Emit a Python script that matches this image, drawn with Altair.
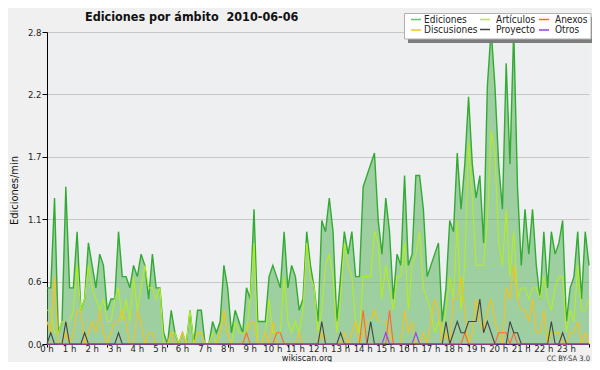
import altair as alt
import pandas as pd

# 10-minute bins over the day (0 .. 144)
bins = list(range(145))

ediciones = [0.5, 0.5, 1.3, 0.1, 0.2, 1.4, 0.5, 0.5, 1.0, 0.3,
             0.4, 0.9, 0.7, 0.5, 0.8, 0.7, 0.3, 0.4, 0.4, 1.0,
             0.6, 0.6, 0.5, 0.7, 0.6, 0.8, 0.7, 0.4, 0.8, 0.5,
             0.5, 0.1, 0.0, 0.3, 0.1, 0.0, 0.1, 0.0, 0.3, 0.0,
             0.3, 0.3, 0.0, 0.0, 0.2, 0.1, 0.2, 0.7, 0.5, 0.1,
             0.3, 0.2, 0.1, 0.5, 0.4, 1.2, 0.2, 0.2, 0.2, 0.6,
             0.7, 0.6, 0.5, 1.0, 0.5, 0.7, 0.6, 0.3, 0.4, 1.0,
             0.7, 0.5, 0.2, 1.1, 1.0, 1.3, 1.0, 0.2, 0.6, 1.0,
             0.8, 1.0, 0.6, 0.6, 1.4, 1.5, 1.6, 1.7, 1.1, 0.8,
             1.3, 1.0, 0.4, 0.8, 0.7, 1.5, 0.7, 0.8, 1.5, 1.5,
             1.2, 0.6, 0.7, 0.8, 0.9, 0.2, 0.5, 1.1, 1.0, 1.7,
             1.2, 1.6, 2.2, 1.6, 1.3, 1.5, 0.9, 2.3, 2.8, 2.3,
             1.6, 1.2, 2.5, 1.6, 2.8, 1.4, 0.7, 1.2, 0.8, 1.2,
             0.7, 0.4, 1.0, 0.5, 1.0, 0.8, 0.9, 1.1, 0.2, 0.5,
             0.6, 1.0, 0.4, 1.0, 0.7]

articulos = [0.3, 0.3, 0.1, 0.1, 0.2, 0.2, 0.2, 0.3, 0.7, 0.3,
             0.4, 0.7, 0.5, 0.4, 0.3, 0.4, 0.2, 0.2, 0.4, 0.5,
             0.2, 0.4, 0.2, 0.6, 0.3, 0.5, 0.7, 0.5, 0.5, 0.4,
             0.5, 0.0, 0.0, 0.1, 0.1, 0.0, 0.1, 0.0, 0.3, 0.0,
             0.1, 0.1, 0.0, 0.0, 0.1, 0.0, 0.1, 0.3, 0.1, 0.0,
             0.2, 0.1, 0.1, 0.1, 0.4, 0.9, 0.0, 0.0, 0.1, 0.4,
             0.1, 0.1, 0.1, 0.6, 0.2, 0.1, 0.2, 0.1, 0.3, 0.9,
             0.6, 0.5, 0.1, 0.3, 0.7, 0.8, 0.6, 0.1, 0.4, 0.9,
             0.7, 0.6, 0.2, 0.1, 0.6, 0.6, 0.6, 1.0, 0.9, 0.4,
             0.7, 0.5, 0.3, 0.6, 0.6, 0.9, 0.3, 0.7, 0.8, 1.0,
             0.5, 0.4, 0.3, 0.1, 0.2, 0.1, 0.3, 0.6, 0.4, 1.1,
             0.3, 0.7, 1.8, 1.3, 0.7, 0.7, 0.7, 1.1, 1.9, 1.7,
             0.9, 0.7, 1.2, 0.6, 1.0, 0.4, 0.5, 0.5, 0.4, 0.5,
             0.5, 0.4, 0.6, 0.4, 0.3, 0.5, 0.6, 0.6, 0.1, 0.3,
             0.2, 0.7, 0.3, 0.3, 0.4]

discusiones = [0.2, 0.1, 0.6, 0.0, 0.0, 0.1, 0.0, 0.1, 0.3, 0.3,
               0.0, 0.1, 0.2, 0.1, 0.3, 0.1, 0.0, 0.1, 0.2, 0.2,
               0.3, 0.2, 0.0, 0.0, 0.3, 0.2, 0.0, 0.1, 0.1, 0.0,
               0.0, 0.0, 0.0, 0.1, 0.0, 0.0, 0.1, 0.0, 0.0, 0.0,
               0.1, 0.1, 0.0, 0.0, 0.0, 0.0, 0.1, 0.3, 0.1, 0.0,
               0.0, 0.0, 0.0, 0.1, 0.2, 0.2, 0.0, 0.0, 0.1, 0.0,
               0.2, 0.0, 0.0, 0.0, 0.0, 0.0, 0.0, 0.1, 0.0, 0.0,
               0.0, 0.0, 0.0, 0.1, 0.0, 0.0, 0.0, 0.0, 0.0, 0.1,
               0.0, 0.1, 0.2, 0.0, 0.1, 0.2, 0.2, 0.3, 0.2, 0.2,
               0.2, 0.1, 0.0, 0.0, 0.0, 0.3, 0.1, 0.2, 0.0, 0.0,
               0.1, 0.0, 0.2, 0.4, 0.3, 0.0, 0.1, 0.0, 0.4, 0.4,
               0.6, 0.3, 0.0, 0.1, 0.4, 0.2, 0.1, 0.3, 0.4, 0.2,
               0.1, 0.0, 0.5, 0.4, 0.7, 0.4, 0.3, 0.3, 0.2, 0.4,
               0.1, 0.1, 0.3, 0.0, 0.1, 0.1, 0.1, 0.0, 0.0, 0.1,
               0.1, 0.2, 0.0, 0.1, 0.0]

anexos = [0.0, 0.0, 0.0, 0.0, 0.0, 0.0, 0.0, 0.0, 0.0, 0.0,
          0.0, 0.0, 0.0, 0.0, 0.0, 0.0, 0.0, 0.0, 0.0, 0.0,
          0.0, 0.0, 0.0, 0.0, 0.0, 0.0, 0.0, 0.0, 0.0, 0.0,
          0.0, 0.0, 0.0, 0.0, 0.0, 0.0, 0.0, 0.0, 0.0, 0.0,
          0.0, 0.0, 0.0, 0.0, 0.0, 0.0, 0.0, 0.0, 0.0, 0.0,
          0.0, 0.0, 0.0, 0.1, 0.0, 0.0, 0.0, 0.0, 0.0, 0.0,
          0.0, 0.1, 0.1, 0.0, 0.0, 0.0, 0.0, 0.0, 0.0, 0.0,
          0.0, 0.0, 0.0, 0.0, 0.0, 0.0, 0.0, 0.0, 0.0, 0.0,
          0.0, 0.0, 0.0, 0.0, 0.3, 0.0, 0.0, 0.0, 0.0, 0.0,
          0.0, 0.3, 0.0, 0.0, 0.0, 0.0, 0.0, 0.0, 0.0, 0.0,
          0.0, 0.0, 0.0, 0.0, 0.0, 0.0, 0.0, 0.0, 0.0, 0.0,
          0.0, 0.1, 0.0, 0.0, 0.0, 0.0, 0.0, 0.0, 0.0, 0.0,
          0.1, 0.1, 0.1, 0.0, 0.1, 0.0, 0.0, 0.0, 0.0, 0.0,
          0.0, 0.0, 0.0, 0.0, 0.0, 0.0, 0.0, 0.0, 0.0, 0.0,
          0.0, 0.0, 0.0, 0.0, 0.0]

proyecto = [0.0, 0.1, 0.0, 0.0, 0.0, 0.2, 0.0, 0.0, 0.0, 0.0,
            0.1, 0.0, 0.0, 0.0, 0.0, 0.0, 0.0, 0.0, 0.0, 0.1,
            0.0, 0.0, 0.0, 0.0, 0.0, 0.0, 0.0, 0.0, 0.0, 0.0,
            0.0, 0.0, 0.0, 0.0, 0.0, 0.0, 0.0, 0.0, 0.0, 0.0,
            0.0, 0.0, 0.0, 0.0, 0.0, 0.0, 0.0, 0.0, 0.0, 0.0,
            0.0, 0.0, 0.0, 0.0, 0.0, 0.0, 0.0, 0.0, 0.0, 0.0,
            0.0, 0.0, 0.0, 0.0, 0.0, 0.0, 0.0, 0.0, 0.0, 0.0,
            0.0, 0.0, 0.0, 0.2, 0.0, 0.0, 0.0, 0.0, 0.1, 0.0,
            0.0, 0.0, 0.0, 0.0, 0.0, 0.0, 0.2, 0.0, 0.0, 0.0,
            0.0, 0.0, 0.0, 0.0, 0.0, 0.0, 0.0, 0.0, 0.0, 0.0,
            0.0, 0.0, 0.0, 0.0, 0.0, 0.0, 0.2, 0.0, 0.1, 0.2,
            0.1, 0.1, 0.2, 0.2, 0.2, 0.4, 0.1, 0.2, 0.1, 0.0,
            0.0, 0.0, 0.0, 0.2, 0.1, 0.1, 0.0, 0.0, 0.0, 0.0,
            0.0, 0.0, 0.0, 0.0, 0.2, 0.0, 0.0, 0.1, 0.0, 0.0,
            0.0, 0.0, 0.0, 0.0, 0.0]

otros = [0.0, 0.0, 0.0, 0.0, 0.0, 0.0, 0.0, 0.0, 0.0, 0.0,
         0.0, 0.0, 0.0, 0.0, 0.0, 0.0, 0.0, 0.0, 0.0, 0.0,
         0.0, 0.0, 0.0, 0.0, 0.0, 0.0, 0.0, 0.0, 0.0, 0.0,
         0.0, 0.0, 0.0, 0.0, 0.0, 0.0, 0.0, 0.0, 0.0, 0.0,
         0.0, 0.0, 0.0, 0.0, 0.0, 0.0, 0.0, 0.0, 0.0, 0.0,
         0.0, 0.0, 0.0, 0.0, 0.0, 0.0, 0.0, 0.0, 0.0, 0.0,
         0.0, 0.0, 0.0, 0.0, 0.0, 0.0, 0.0, 0.0, 0.0, 0.0,
         0.0, 0.0, 0.0, 0.0, 0.0, 0.0, 0.0, 0.0, 0.0, 0.0,
         0.0, 0.0, 0.0, 0.0, 0.0, 0.0, 0.0, 0.0, 0.0, 0.0,
         0.1, 0.0, 0.0, 0.0, 0.0, 0.0, 0.0, 0.0, 0.1, 0.0,
         0.0, 0.0, 0.0, 0.0, 0.0, 0.0, 0.0, 0.0, 0.0, 0.0,
         0.0, 0.0, 0.0, 0.0, 0.0, 0.0, 0.0, 0.0, 0.0, 0.0,
         0.0, 0.0, 0.0, 0.0, 0.0, 0.0, 0.0, 0.0, 0.0, 0.0,
         0.0, 0.0, 0.0, 0.0, 0.0, 0.0, 0.0, 0.0, 0.0, 0.0,
         0.0, 0.0, 0.0, 0.0, 0.0]

legend_order = ["Ediciones", "Artículos", "Anexos", "Discusiones", "Proyecto", "Otros"]
legend_colors = ["#66c266", "#b4ee22", "#ff6a2a", "#f7c21a", "#444444", "#9a3cf0"]

# tick positions / labels
x_tick_values = bins
hour_bins = [0, 6, 12, 18, 24, 30, 36, 42, 48, 54, 60, 66,
             72, 78, 84, 90, 96, 102, 108, 114, 120, 126, 132, 138]
hour_labels = ["0 h", "1 h", "2 h", "3 h", "4 h", "5 h", "6 h", "7 h",
               "8 h", "9 h", "10 h", "11 h", "12 h", "13 h", "14 h", "15 h",
               "16 h", "17 h", "18 h", "19 h", "20 h", "21 h", "22 h", "23 h"]
y_tick_values = [0.0, 0.1389, 0.2778, 0.4167, 0.5556, 0.6944, 0.8333, 0.9722,
                 1.1111, 1.25, 1.3889, 1.5278, 1.6667, 1.8056, 1.9444, 2.0833,
                 2.2222, 2.3611, 2.5, 2.6389, 2.7778]
y_major_idx = [0, 4, 8, 12, 16, 20]

FONT = "DejaVu Sans Condensed, DejaVu Sans"

df_e = pd.DataFrame({"bin": bins, "valor": ediciones})
line_series = [("Artículos", articulos), ("Discusiones", discusiones),
               ("Anexos", anexos), ("Proyecto", proyecto), ("Otros", otros)]
rows = []
for name, vals in line_series:
    for b, v in zip(bins, vals):
        rows.append({"bin": b, "serie": name, "valor": v})
df_lines = pd.DataFrame(rows)
df_hours = pd.DataFrame({"bin": hour_bins, "label": hour_labels})

major_test = "indexof(%s, round(datum.value*7.2)) >= 0" % str(y_major_idx)

x_scale = alt.Scale(domain=[0, 144], nice=False, zero=False)
x_enc = alt.X("bin:Q", scale=x_scale,
              axis=alt.Axis(values=x_tick_values, title=None, labels=False,
                            tickSize=3, tickColor="black", domainColor="black",
                            grid=False))
y_enc = alt.Y("valor:Q",
              scale=alt.Scale(domain=[0, 2.7778], nice=False),
              axis=alt.Axis(values=y_tick_values, title="Ediciones/min",
                            labelExpr=major_test + " ? format(datum.value, '.1f') : ''",
                            labelOverlap=False, labelFont=FONT, labelFontSize=9.5,
                            labelColor="#222222", labelPadding=1,
                            tickSize=5, tickColor="black", domainColor="black",
                            gridColor="#c8c8c8",
                            gridOpacity={"condition": {"test": major_test, "value": 1}, "value": 0},
                            titleFont=FONT, titleFontSize=11, titleFontWeight="normal",
                            titleColor="#111111", titleX=-28, titleY=158))

area = alt.Chart(df_e).mark_area(color="#4caf50", opacity=0.5).encode(x=x_enc, y=y_enc)
eline = alt.Chart(df_e).mark_line(color="#33aa33", strokeWidth=1.4).encode(x="bin:Q", y="valor:Q")

lines = alt.Chart(df_lines).mark_line(strokeWidth=1.1).encode(
    x="bin:Q", y="valor:Q",
    color=alt.Color("serie:N",
                    scale=alt.Scale(domain=legend_order, range=legend_colors),
                    legend=None),
)

hours_text = alt.Chart(df_hours).mark_text(
    font=FONT, fontSize=9.5, color="#222222", baseline="alphabetic").encode(
    x=alt.X("bin:Q", scale=x_scale), y=alt.value(320), text="label:N")

# legend box (drawn by hand, placed in the top right corner)
one = pd.DataFrame({"k": [0]})
shadow = alt.Chart(one).mark_rect(color="#7c7c7c").encode(
    x=alt.value(361), x2=alt.value(548), y=alt.value(-15), y2=alt.value(11))
box = alt.Chart(one).mark_rect(fill="white", stroke="#b0b0b0", strokeWidth=1).encode(
    x=alt.value(357.5), x2=alt.value(544), y=alt.value(-18.5), y2=alt.value(7))
legend_layout = [(364, 377, -12.5), (433, 449, -12.5), (492, 508, -12.5),
                 (364, 377, -2), (433, 449, -2.5), (492, 508, -2)]
legend_layers = []
for name, col, (sx, tx, ly) in zip(legend_order, legend_colors, legend_layout):
    legend_layers.append(alt.Chart(one).mark_rule(color=col, strokeWidth=1.5).encode(
        x=alt.value(sx), x2=alt.value(sx + 10), y=alt.value(ly)))
    legend_layers.append(alt.Chart(pd.DataFrame({"t": [name]})).mark_text(
        font=FONT, fontSize=10, color="#222222", align="left", baseline="middle").encode(
        text="t:N", x=alt.value(tx), y=alt.value(ly)))

title = alt.Chart(pd.DataFrame({"t": ["Ediciones por ámbito \u00a02010-06-06"]})).mark_text(
    font=FONT, fontSize=12.5, fontWeight="bold", color="#111111",
    align="left", baseline="alphabetic").encode(
    text="t:N", x=alt.value(38), y=alt.value(-11))

site = alt.Chart(pd.DataFrame({"t": ["wikiscan.org"]})).mark_text(
    font=FONT, fontSize=9, color="#222222", baseline="alphabetic").encode(
    text="t:N", x=alt.value(260), y=alt.value(329))
lic = alt.Chart(pd.DataFrame({"t": ["CC BY-SA 3.0"]})).mark_text(
    font=FONT, fontSize=7.5, color="#333333", align="right", baseline="alphabetic").encode(
    text="t:N", x=alt.value(543), y=alt.value(329))

chart = alt.layer(area, eline, lines, hours_text, shadow, box, *legend_layers,
                  title, site, lic).properties(
    width=542, height=312,
    autosize=alt.AutoSizeParams(type="none"),
    padding={"left": 39, "top": 24, "right": 3, "bottom": 18},
    background="#f0f0f0",
).configure_view(fill="#eeeff1", strokeWidth=0)

chart.save("out.html", embed_options={"renderer": "svg", "actions": False})
